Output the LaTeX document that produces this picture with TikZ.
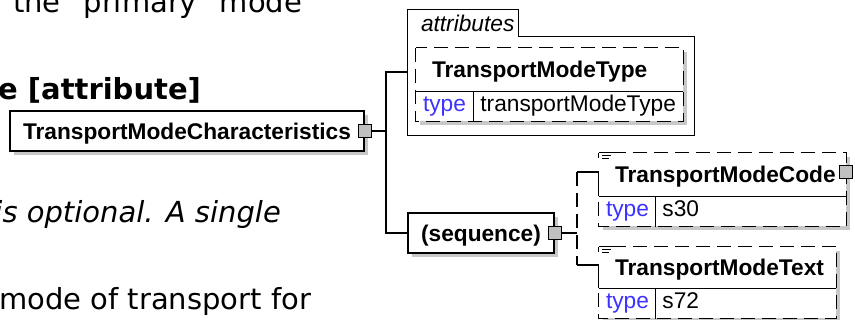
\documentclass[tikz,border=0pt]{standalone}
\usepackage{fontspec}
\usepackage{xcolor}
\usepackage{tikz}
\usetikzlibrary{shadows}

\newfontfamily\pagefont{DejaVu Sans}
\newfontfamily\diafont{Liberation Sans}
\newcommand{\pagesize}{\pagefont\fontsize{29}{35}\selectfont}
\newcommand{\diabold}{\diafont\bfseries\fontsize{22.7}{26}\selectfont}
\newcommand{\diaplain}{\diafont\fontsize{22.7}{26}\selectfont}
\newcommand{\diaital}{\diafont\itshape\fontsize{22.7}{26}\selectfont}

\definecolor{typeblue}{RGB}{60,50,255}
\definecolor{shadegray}{RGB}{200,200,200}
\definecolor{portgray}{RGB}{192,192,192}

% little documentation mark in the top left corner of an element
\newcommand{\docmark}[1]{%
  \draw[line width=0.9pt] (#1.north west) -- ++(13,0) (#1.north west) -- ++(0,5)
    ([shift={(3,3)}]#1.north west) -- ++(9,0)
    ([shift={(3,6)}]#1.north west) -- ++(7,0);}

\begin{document}
\begin{tikzpicture}[
    x=1pt, y=-1pt,
    every node/.style={inner sep=0pt},
    shade/.style={drop shadow={shadow xshift=4pt, shadow yshift=-4pt, fill=shadegray, opacity=1}},
    box/.style={draw, line width=1.3pt, fill=white, shade, text depth=0pt, font=\diabold},
    port/.style={draw, line width=1.1pt, fill=portgray, minimum size=13pt},
    elhead/.style={fill=white, shade, text width=#1, minimum height=43pt, text depth=0pt, align=left, font=\diabold, execute at begin node={\hspace*{16pt}}},
    cell/.style={fill=white, shade, text width=#1, minimum height=30pt, text height=16pt, text depth=5pt, align=left, font=\diaplain, execute at begin node={\hspace*{7pt}}},
    tab/.style={text width=#1, minimum height=27pt, text depth=0pt, align=left, font=\diaital, execute at begin node={\hspace*{13pt}}},
    wire/.style={line width=1.3pt},
    optwire/.style={wire, dash pattern=on 14pt off 7pt},
    pagetext/.style={anchor=base west, font=\pagesize}
]
    \useasboundingbox (0,0) rectangle (855,320);
    \fill[white] (0,0) rectangle (855,320);
    \clip (0,0) rectangle (855,320);

    % page text around the diagram
    \node[pagetext] (line1) at (13,13) {\makebox[289pt][s]{the primary mode}};
    \node[pagetext] (heading) at (-2,100) {\bfseries e [attribute]};
    \node[pagetext, anchor=base east] (line2) at (281,223) {\itshape is optional. A single};
    \node[pagetext] (line3) at (-1,310) {mode of transport for};

    % root element
    \node[box, minimum width=354pt, minimum height=40pt] (main) at (187,131) {TransportModeCharacteristics};
    \node[port] (mainport) at (main.east) {};
    \coordinate (fork) at (386,131);

    % attributes group
    \node[minimum width=286pt, minimum height=98pt] (attrgroup) at (551,86) {};
    \node[tab=110pt, anchor=south west] (attrtab) at (attrgroup.north west) {attributes};
    \draw[wire] (attrtab.south west) |- (attrtab.north east) |- (attrgroup.north east) |- (attrgroup.south west) -- cycle;

    \node[elhead=267pt] (attrhead) at (549.5,69.5) {TransportModeType};
    \node[cell=57pt, anchor=north west, text=typeblue] (attrtype) at (attrhead.south west) {type};
    \node[cell=210pt, anchor=north west] (attrval) at (attrtype.north east) {transportModeType};
    \draw[optwire] (attrhead.north west) rectangle (attrval.south east);
    \draw[wire] (attrhead.south west) -- (attrhead.south east);
    \draw[wire] (attrtype.north east) -- (attrtype.south east);

    % sequence
    \node[box, minimum width=146pt, minimum height=40pt] (seq) at (481,233) {(sequence)};
    \node[port] (seqport) at (seq.east) {};
    \coordinate (seqfork) at (577,233);

    % TransportModeCode
    \node[elhead=247pt] (codehead) at (722.5,174.5) {TransportModeCode};
    \node[cell=56pt, anchor=north west, text=typeblue] (codetype) at (codehead.south west) {type};
    \node[cell=191pt, anchor=north west] (codeval) at (codetype.north east) {s30};
    \draw[optwire] ([xshift=13pt]codehead.north west) -| (codeval.south east) -| (codehead.south west);
    \draw[wire] (codehead.south west) -- (codehead.south east);
    \draw[wire] (codetype.north east) -- (codetype.south east);
    \docmark{codehead}
    \node[port] (codeport) at ([yshift=2.5pt]codehead.east) {};
    \coordinate (codein) at ([yshift=2.5pt]codehead.west);

    % TransportModeText
    \node[elhead=237pt, minimum height=41pt] (texthead) at (717.5,267.5) {TransportModeText};
    \node[cell=56pt, anchor=north west, text=typeblue] (texttype) at (texthead.south west) {type};
    \node[cell=181pt, anchor=north west] (textval) at (texttype.north east) {s72};
    \draw[optwire] ([xshift=13pt]texthead.north west) -| (textval.south east) -| (texthead.south west);
    \draw[wire] (texthead.south west) -- (texthead.south east);
    \draw[wire] (texttype.north east) -- (texttype.south east);
    \docmark{texthead}
    \coordinate (textin) at ([yshift=2.5pt]texthead.west);

    % connectors
    \draw[wire] (mainport.east) -- (fork);
    \draw[wire] (fork) |- ([yshift=14pt]attrgroup.west);
    \draw[wire] (fork) |- (seq.west);
    \draw[wire] (seqport.east) -- (seqfork);
    \draw[optwire] (seqfork |- codein) -- (seqfork |- textin);
    \draw[wire] (seqfork |- codein) -- (codein) -- (codehead.south west);
    \draw[wire] (seqfork |- textin) -- (textin) -- (texthead.south west);
\end{tikzpicture}
\end{document}
